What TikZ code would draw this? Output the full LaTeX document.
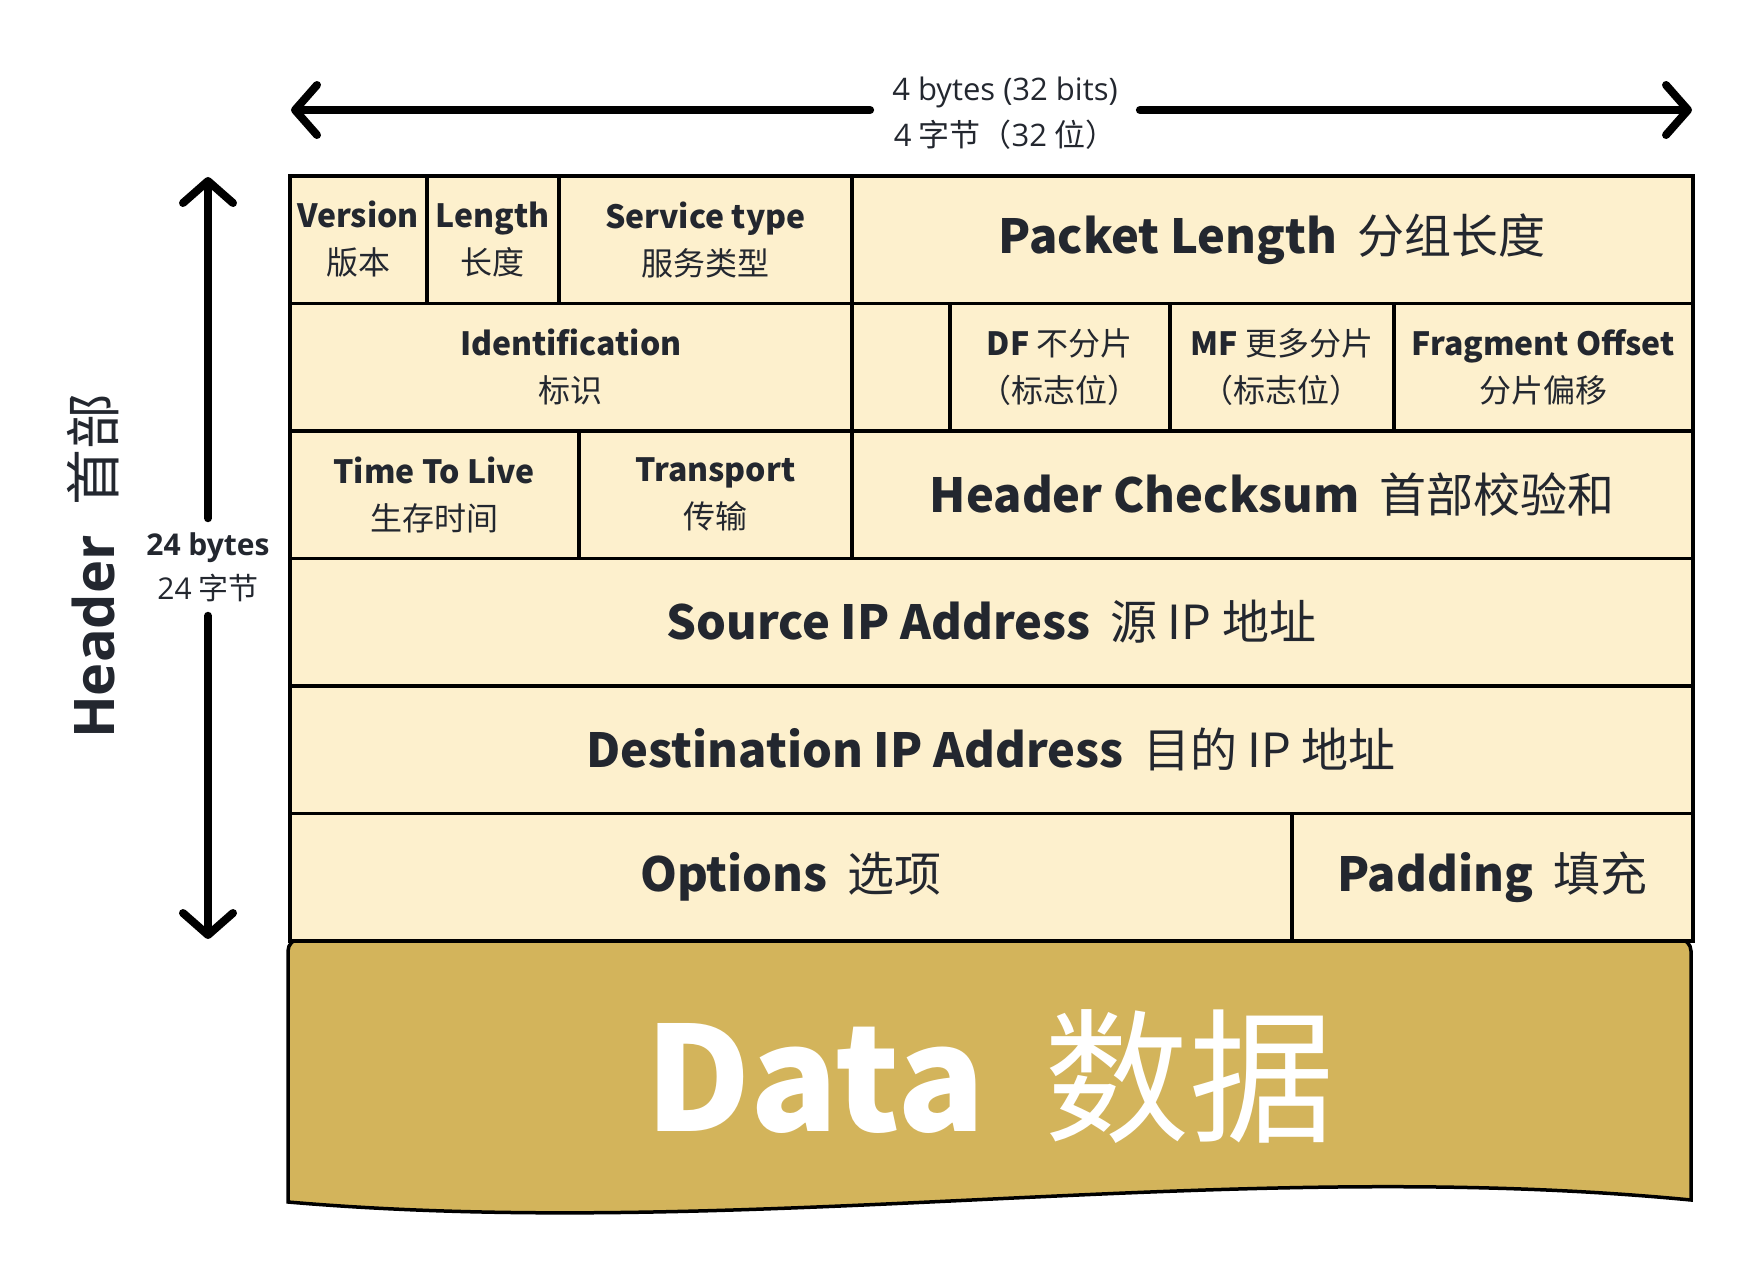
\documentclass[tikz,border=0pt]{standalone}
\usepackage{fontspec}
\setmainfont{Noto Sans CJK SC}
\newfontfamily\latinsans{Open Sans}
\usetikzlibrary{arrows.meta}
\definecolor{cream}{HTML}{FDF0CD}
\definecolor{gold}{HTML}{D3B45B}
\definecolor{ink}{HTML}{23272F}
\begin{document}
\begin{tikzpicture}[x = 1pt, y = -1pt,
	field/.style = {draw = black, line width = 3.5pt, fill = cream, text = ink, align = center, inner sep = 0pt, anchor = north west},
	small/.style = {font = \fontsize{32}{47}\selectfont},
	large/.style = {font = \fontsize{47}{56}\selectfont},
	span/.style = {line width = 8pt, line cap = round, -{Straight Barb[length = 22pt, width = 50pt, round]}}
	]
	\useasboundingbox (0, 0) rectangle (1757, 1264);
	% size labels
	\node[text = ink, align = center, inner xsep = 22pt, font = \fontsize{31}{46}\selectfont] (wsize) at (1005, 113) {{\latinsans 4 bytes (32 bits)}\\{\latinsans 4} 字节（{\latinsans 32} 位）};
	\node[text = ink, align = center, inner ysep = 14pt, font = \fontsize{30}{44}\selectfont] (hsize) at (208, 567) {{\latinsans\bfseries 24 bytes}\\{\latinsans 24} 字节};
	\node[text = ink, rotate = 90, font = \fontsize{56}{60}\selectfont] (header) at (93, 566) {{\latinsans\bfseries Header}\hspace{30pt}首部};
	\coordinate (wleft)  at (291, 110);
	\coordinate (wright) at (1692, 110);
	\coordinate (htop)   at (208, 177);
	\coordinate (hbot)   at (208, 939);
	\draw[span] (wsize.west |- wleft) -- (wleft);
	\draw[span] (wsize.east |- wright) -- (wright);
	\draw[span] (hsize.north) -- (htop);
	\draw[span] (hsize.south) -- (hbot);
	% data
	\draw[line width = 3.5pt, fill = gold] (288, 1202) -- (288, 951) arc[start angle = 180, end angle = 270, radius = 12] -- (1679, 939) arc[start angle = 270, end angle = 360, radius = 12] -- (1691, 1200) .. controls (1225, 1155) and (755, 1242) .. (288, 1202) -- cycle;
	\node[text = white, font = \fontsize{145}{160}\selectfont] (data) at (990, 1077) {\textbf{Data}\hspace{60pt}数据};
	% row 1
	\node[field, small, minimum width = 137pt, minimum height = 127.5pt] (ver)  at (288, 174) {\textbf{Version}\\版本};
	\node[field, small, minimum width = 132pt, minimum height = 127.5pt] (len)  at (425, 174) {\textbf{Length}\\长度};
	\node[field, small, minimum width = 293pt, minimum height = 127.5pt] (tos)  at (557, 174) {\textbf{Service type}\\服务类型};
	\node[field, large, minimum width = 841pt, minimum height = 127.5pt] (plen) at (850, 174) {\textbf{Packet Length}\hspace{20pt}分组长度};
	% row 2
	\node[field, small, minimum width = 562pt, minimum height = 127.5pt] (ident) at (288, 301.5) {\textbf{Identification}\\标识};
	\node[field, small, minimum width = 98pt,  minimum height = 127.5pt] (flag)  at (850, 301.5) {};
	\node[field, small, minimum width = 220pt, minimum height = 127.5pt] (df)    at (948, 301.5) {\textbf{DF} 不分片\\（标志位）};
	\node[field, small, minimum width = 224pt, minimum height = 127.5pt] (mf)    at (1168, 301.5) {\textbf{MF} 更多分片\\（标志位）};
	\node[field, small, minimum width = 299pt, minimum height = 127.5pt] (frag)  at (1392, 301.5) {\textbf{Fragment Offset}\\分片偏移};
	% row 3
	\node[field, small, minimum width = 289pt, minimum height = 127.5pt] (ttl)   at (288, 429) {\textbf{Time To Live}\\生存时间};
	\node[field, small, minimum width = 273pt, minimum height = 127.5pt] (proto) at (577, 429) {\textbf{Transport}\\传输};
	\node[field, large, minimum width = 841pt, minimum height = 127.5pt] (csum)  at (850, 429) {\textbf{Header Checksum}\hspace{20pt}首部校验和};
	% rows 4 and 5
	\node[field, large, minimum width = 1403pt, minimum height = 127.5pt] (src) at (288, 556.5) {\textbf{Source IP Address}\hspace{20pt}源 IP 地址};
	\node[field, large, minimum width = 1403pt, minimum height = 127.5pt] (dst) at (288, 684) {\textbf{Destination IP Address}\hspace{20pt}目的 IP 地址};
	% row 6
	\node[field, large, minimum width = 1002pt, minimum height = 127.5pt] (opt) at (288, 811.5) {\textbf{Options}\hspace{20pt}选项};
	\node[field, large, minimum width = 401pt,  minimum height = 127.5pt] (pad) at (1290, 811.5) {\textbf{Padding}\hspace{20pt}填充};
\end{tikzpicture}
\end{document}
